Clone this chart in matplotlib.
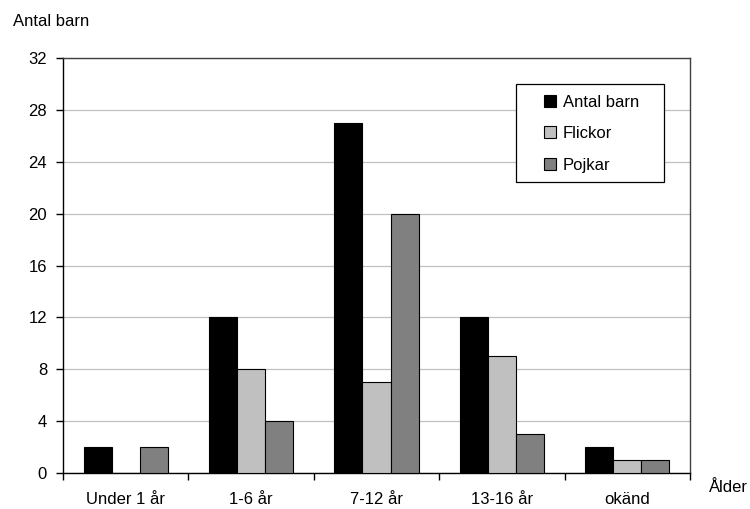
import matplotlib
matplotlib.use("Agg")
import matplotlib.pyplot as plt
from matplotlib.patches import Rectangle
from matplotlib.transforms import IdentityTransform
import numpy as np

plt.rcParams['font.family'] = ['Liberation Sans', 'DejaVu Sans']

categories = ["Under 1 år", "1-6 år", "7-12 år", "13-16 år", "okänd"]
antal_barn = [2, 12, 27, 12, 2]
flickor = [0, 8, 7, 9, 1]
pojkar = [2, 4, 20, 3, 1]
series_names = ["Antal barn", "Flickor", "Pojkar"]
colors = ["#000000", "#c0c0c0", "#808080"]
yticks = [0, 4, 8, 12, 16, 20, 24, 28, 32]

FS = 12
fig = plt.figure(figsize=(7.5, 5.09), dpi=100)
ax = fig.add_axes([0.084, 0.0707, 0.836, 0.8153])

x = np.arange(len(categories))
w = 0.224
for i, (vals, name, c) in enumerate(zip([antal_barn, flickor, pojkar], series_names, colors)):
    ax.bar(x + (i - 1) * w, vals, width=w, color=c, edgecolor="black", linewidth=0.8,
           label=name, zorder=3)

ax.set_xlim(-0.5, len(categories) - 0.5)
ax.set_ylim(0, 32)
ax.set_yticks(yticks)
ax.set_yticklabels([str(t) for t in yticks], fontsize=FS)
ax.yaxis.grid(True, color="#c0c0c0", linewidth=0.9, zorder=0)
ax.set_axisbelow(True)

ax.set_xticks(x)
ax.set_xticklabels(categories, fontsize=FS)
ax.set_xticks(np.arange(len(categories) + 1) - 0.5, minor=True)
ax.tick_params(axis="x", which="major", length=0, pad=14)
ax.tick_params(axis="x", which="minor", length=5, width=1, direction="out")
ax.tick_params(axis="y", length=5, width=1, direction="out", pad=6.5)

for s in ["left", "bottom"]:
    ax.spines[s].set_color("black")
    ax.spines[s].set_linewidth(1.0)
for s in ["top", "right"]:
    ax.spines[s].set_color("#404040")
    ax.spines[s].set_linewidth(1.0)

leg = ax.legend(loc="upper left", bbox_to_anchor=(0.767, 0.912), fontsize=FS,
                frameon=False, handlelength=0.72, handleheight=0.72, handletextpad=0.42,
                labelspacing=1.0, borderpad=0, borderaxespad=0)
for h in leg.legend_handles:
    h.set_linewidth(0.8)
leg.set_zorder(6)
fig.canvas.draw()
bb = leg.get_window_extent(fig.canvas.get_renderer())
pl, pr, pt, pb = 28, 25, 11, 9
rect = Rectangle((bb.x0 - pl, bb.y0 - pb), bb.width + pl + pr, bb.height + pt + pb,
                 transform=IdentityTransform(), facecolor="white", edgecolor="black",
                 linewidth=0.9, zorder=5, clip_on=False)
ax.add_artist(rect)

fig.text(13 / 750, 1 - 22 / 509, "Antal barn", fontsize=FS, va="center", ha="left")
fig.text(748 / 750, 1 - 487 / 509, "Ålder", fontsize=FS, va="center", ha="right")

fig.savefig("out.png", dpi=100)
